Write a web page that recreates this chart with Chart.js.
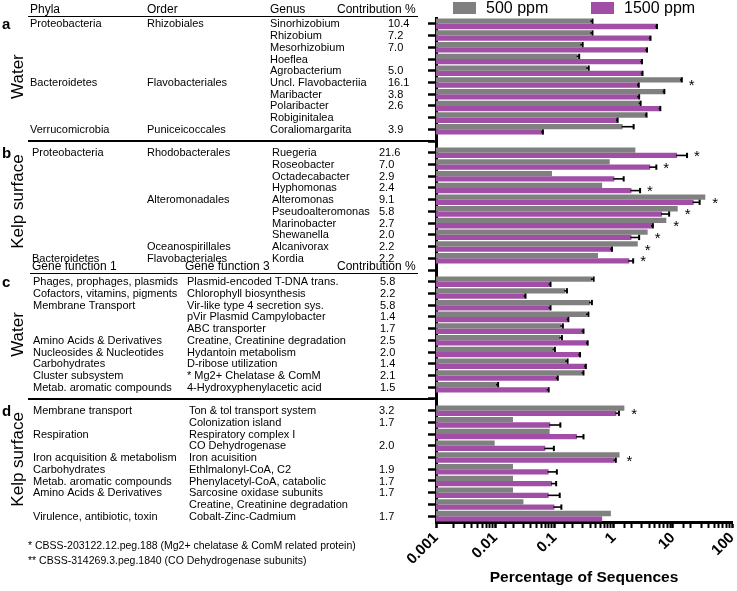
<!DOCTYPE html>
<html><head><meta charset="utf-8">
<script src="https://cdn.jsdelivr.net/npm/chart.js@4.4.1/dist/chart.umd.min.js"></script>
<style>html,body{margin:0;padding:0;background:#fff}#wrap{position:relative;width:737px;height:591px}</style>
</head><body><div id="wrap"><canvas id="c" width="737" height="591"></canvas></div>
<script>
// ---------- data ----------
const seriesLabels = ['500 ppm', '1500 ppm'];
const xTickLabels = ['0.001', '0.01', '0.1', '1', '10', '100'];
const axisTitle = 'Percentage of Sequences';
const panelLetters = ['a', 'b', 'c', 'd'];
const panelSites = ['Water', 'Kelp surface', 'Water', 'Kelp surface'];
const genusHeaders = ['Phyla', 'Order', 'Genus', 'Contribution %'];
const functionHeaders = ['Gene function 1', 'Gene function 3', 'Contribution %'];
const footnotes = ['* CBSS-203122.12.peg.188 (Mg2+ chelatase & ComM related protein)',
                   '** CBSS-314269.3.peg.1840 (CO Dehydrogenase subunits)'];

// panel a: genera, water
const waterGenus = ['Sinorhizobium', 'Rhizobium', 'Mesorhizobium', 'Hoeflea', 'Agrobacterium', 'Uncl. Flavobacteriia', 'Maribacter', 'Polaribacter', 'Robiginitalea', 'Coraliomargarita'];
const waterGenusPhyla = ['Proteobacteria', '', '', '', '', 'Bacteroidetes', '', '', '', 'Verrucomicrobia'];
const waterGenusOrder = ['Rhizobiales', '', '', '', '', 'Flavobacteriales', '', '', '', 'Puniceicoccales'];
const waterGenusContribution = ['10.4', '7.2', '7.0', '', '5.0', '16.1', '3.8', '2.6', '', '3.9'];
const waterGenus500 = [0.42, 0.42, 0.285, 0.247, 0.36, 13.8, 7.0, 2.76, 3.5, 1.42];
const waterGenus1500 = [5.25, 4.1, 3.57, 2.94, 3.0, 2.58, 2.6, 6.0, 1.14, 0.062];
const waterGenusErr500 = [0.02, 0.02, 0.015, 0.015, 0.02, 0.4, 0.2, 0.1, 0.1, 0.76];
const waterGenusErr1500 = [0.15, 0.1, 0.1, 0.08, 0.08, 0.08, 0.1, 0.15, 0.03, 0.002];
const waterGenusSig = [0, 0, 0, 0, 0, 1, 0, 0, 0, 0];

// panel b: genera, kelp surface
const kelpGenus = ['Ruegeria', 'Roseobacter', 'Octadecabacter', 'Hyphomonas', 'Alteromonas', 'Pseudoalteromonas', 'Marinobacter', 'Shewanella', 'Alcanivorax', 'Kordia'];
const kelpGenusPhyla = ['Proteobacteria', '', '', '', '', '', '', '', '', 'Bacteroidetes'];
const kelpGenusOrder = ['Rhodobacterales', '', '', '', 'Alteromonadales', '', '', '', 'Oceanospirillales', 'Flavobacteriales'];
const kelpGenusContribution = ['21.6', '7.0', '2.9', '2.4', '9.1', '5.8', '2.7', '2.0', '2.2', '2.2'];
const kelpGenus500 = [2.33, 0.86, 0.091, 0.64, 35.4, 12.1, 7.77, 3.76, 2.56, 0.545];
const kelpGenus1500 = [11.8, 4.17, 1.03, 2.0, 22.5, 6.57, 4.46, 2.0, 0.91, 1.84];
const kelpGenusErr500 = [0, 0, 0, 0, 0, 0, 0, 0, 0, 0];
const kelpGenusErr1500 = [5.6, 1.1, 0.45, 0.8, 5.9, 2.1, 0.15, 0.7, 0.03, 0.3];
const kelpGenusSig = [1, 1, 0, 1, 1, 1, 1, 1, 1, 1];

// panel c: gene functions, water
const waterFunction1 = ['Phages, prophages, plasmids', 'Cofactors, vitamins, pigments', 'Membrane Transport', '', '', 'Amino Acids & Derivatives', 'Nucleosides & Nucleotides', 'Carbohydrates', 'Cluster subsystem', 'Metab. aromatic compounds'];
const waterFunction3 = ['Plasmid-encoded T-DNA trans.', 'Chlorophyll biosynthesis', 'Vir-like type 4 secretion sys.', 'pVir Plasmid Campylobacter', 'ABC transporter', 'Creatine, Creatinine degradation', 'Hydantoin metabolism', 'D-ribose utilization', '* Mg2+ Chelatase & ComM', '4-Hydroxyphenylacetic acid'];
const waterFunctionContribution = ['5.8', '2.2', '5.8', '1.4', '1.7', '2.5', '2.0', '1.4', '2.1', '1.5'];
const waterFunction500 = [0.43, 0.153, 0.40, 0.355, 0.131, 0.126, 0.097, 0.159, 0.30, 0.0107];
const waterFunction1500 = [0.083, 0.0315, 0.083, 0.167, 0.30, 0.355, 0.263, 0.33, 0.11, 0.077];
const waterFunctionErr500 = [0.03, 0.01, 0.03, 0.02, 0.008, 0.008, 0.005, 0.008, 0.01, 0.0005];
const waterFunctionErr1500 = [0.003, 0.001, 0.003, 0.005, 0.01, 0.01, 0.008, 0.01, 0.004, 0.003];
const waterFunctionSig = [0, 0, 0, 0, 0, 0, 0, 0, 0, 0];

// panel d: gene functions, kelp surface
const kelpFunction1 = ['Membrane transport', '', 'Respiration', '', 'Iron acquisition & metabolism', 'Carbohydrates', 'Metab. aromatic compounds', 'Amino Acids & Derivatives', '', 'Virulence, antibiotic, toxin'];
const kelpFunction3 = ['Ton & tol transport system', 'Colonization island', 'Respiratory complex I', 'CO Dehydrogenase', 'Iron acuisition', 'Ethlmalonyl-CoA, C2', 'Phenylacetyl-CoA, catabolic', 'Sarcosine oxidase subunits', 'Creatine, Creatinine degradation', 'Cobalt-Zinc-Cadmium'];
const kelpFunctionContribution = ['3.2', '1.7', '', '2.0', '', '1.9', '1.7', '1.7', '', '1.7'];
const kelpFunction500 = [1.52, 0.020, 0.083, 0.0098, 1.26, 0.020, 0.020, 0.020, 0.030, 0.90];
const kelpFunction1500 = [1.11, 0.085, 0.24, 0.070, 1.04, 0.080, 0.091, 0.080, 0.10, 0.64];
const kelpFunctionErr500 = [0, 0, 0, 0, 0, 0, 0, 0, 0, 0];
const kelpFunctionErr1500 = [0.12, 0.041, 0.07, 0.028, 0.05, 0.03, 0.016, 0.043, 0.031, 0];
const kelpFunctionSig = [1, 0, 0, 0, 1, 0, 0, 0, 0, 0];

// ---------- combined (blank category between panels) ----------
const categories = [...waterGenus, '', ...kelpGenus, '', ...waterFunction3, '', ...kelpFunction3];
const values500 = [...waterGenus500, null, ...kelpGenus500, null, ...waterFunction500, null, ...kelpFunction500];
const values1500 = [...waterGenus1500, null, ...kelpGenus1500, null, ...waterFunction1500, null, ...kelpFunction1500];
const errors500 = [...waterGenusErr500, 0, ...kelpGenusErr500, 0, ...waterFunctionErr500, 0, ...kelpFunctionErr500];
const errors1500 = [...waterGenusErr1500, 0, ...kelpGenusErr1500, 0, ...waterFunctionErr1500, 0, ...kelpFunctionErr1500];
const significant = [...waterGenusSig, 0, ...kelpGenusSig, 0, ...waterFunctionSig, 0, ...kelpFunctionSig];

// ---------- drawing ----------
const FONT = '"Liberation Sans", Arial, Helvetica, sans-serif';
const GRAY = '#808080';
const PURPLE = '#a14ea7';
const isDecade = v => Math.abs(Math.log10(v) - Math.round(Math.log10(v))) < 1e-6;

const tableLayout = [
  {start: 0, cols: [[waterGenusPhyla, 30], [waterGenusOrder, 147], [waterGenus, 270], [waterGenusContribution, 388]]},
  {start: 11, cols: [[kelpGenusPhyla, 32], [kelpGenusOrder, 147], [kelpGenus, 272], [kelpGenusContribution, 379]]},
  {start: 22, cols: [[waterFunction1, 33], [waterFunction3, 187], [waterFunctionContribution, 380]]},
  {start: 33, cols: [[kelpFunction1, 33], [kelpFunction3, 189], [kelpFunctionContribution, 379]]}
];

const decor = {
  id: 'decor',
  afterDatasetsDraw(chart) {
    const ctx = chart.ctx, xs = chart.scales.x, ys = chart.scales.y;
    const errs = [errors500, errors1500];
    ctx.save();
    ctx.strokeStyle = '#000';
    const ends = categories.map(() => 0);
    chart.data.datasets.forEach((ds, di) => {
      const meta = chart.getDatasetMeta(di);
      meta.data.forEach((bar, i) => {
        const v = ds.data[i];
        if (v == null) return;
        const e = errs[di][i];
        const x1 = xs.getPixelForValue(v + e);
        ends[i] = Math.max(ends[i], x1, bar.x);
        if (!e) return;
        const h = bar.height;
        ctx.lineWidth = 1.6;
        ctx.beginPath(); ctx.moveTo(bar.x - 1, bar.y); ctx.lineTo(x1, bar.y); ctx.stroke();
        ctx.lineWidth = 2;
        ctx.beginPath(); ctx.moveTo(x1, bar.y - h / 2); ctx.lineTo(x1, bar.y + h / 2); ctx.stroke();
      });
    });
    ctx.fillStyle = '#000';
    ctx.font = `15px ${FONT}`;
    ctx.textAlign = 'left';
    ctx.textBaseline = 'alphabetic';
    significant.forEach((s, i) => {
      if (!s) return;
      ctx.fillText('*', ends[i] + 7, ys.getPixelForValue(i) + 8);
    });
    ctx.restore();
  },
  afterDraw(chart) {
    const ctx = chart.ctx, ys = chart.scales.y;
    ctx.save();
    ctx.fillStyle = '#000';
    ctx.strokeStyle = '#000';
    ctx.textAlign = 'left';
    ctx.textBaseline = 'middle';
    // table body
    ctx.font = `11px ${FONT}`;
    tableLayout.forEach(p => {
      p.cols.forEach(([arr, x]) => {
        arr.forEach((t, i) => { if (t) ctx.fillText(t, x, ys.getPixelForValue(p.start + i) + 0.5); });
      });
    });
    // headers
    ctx.font = `12px ${FONT}`;
    [30, 147, 270, 337].forEach((x, i) => ctx.fillText(genusHeaders[i], x, 10));
    const hy = ys.getPixelForValue(21) - 3;
    [32, 185, 337].forEach((x, i) => ctx.fillText(functionHeaders[i], x, hy));
    ctx.lineWidth = 1;
    ctx.beginPath(); ctx.moveTo(28, 16.5); ctx.lineTo(418, 16.5); ctx.stroke();
    ctx.beginPath(); ctx.moveTo(30, hy + 6.5); ctx.lineTo(418, hy + 6.5); ctx.stroke();
    // separators
    ctx.lineWidth = 2;
    [10, 32].forEach(i => {
      const y = Math.round(ys.getPixelForValue(i));
      ctx.beginPath(); ctx.moveTo(28, y); ctx.lineTo(434, y); ctx.stroke();
    });
    // panel letters and sites
    tableLayout.forEach((p, k) => {
      const y0 = ys.getPixelForValue(p.start), y1 = ys.getPixelForValue(p.start + 9);
      ctx.font = `bold 15px ${FONT}`;
      ctx.textAlign = 'left';
      ctx.fillText(panelLetters[k], 2, y0 + 1);
      ctx.save();
      ctx.translate(18, (y0 + y1) / 2 - (k % 2 ? 4 : 0));
      ctx.rotate(-Math.PI / 2);
      ctx.textAlign = 'center';
      ctx.font = `17px ${FONT}`;
      ctx.fillText(panelSites[k], 0, 0);
      ctx.restore();
    });
    // legend
    ctx.font = `16px ${FONT}`;
    ctx.textAlign = 'left';
    const legendX = [453, 591];
    chart.data.datasets.forEach((ds, i) => {
      ctx.fillStyle = ds.backgroundColor;
      ctx.fillRect(legendX[i], 2, 23, 12);
      ctx.fillStyle = '#000';
      ctx.fillText(ds.label, legendX[i] + 33, 8.5);
    });
    // footnotes
    ctx.font = `10.5px ${FONT}`;
    footnotes.forEach((t, i) => ctx.fillText(t, 28, 546 + i * 15));
    ctx.restore();
  }
};

new Chart(document.getElementById('c'), {
  type: 'bar',
  data: {
    labels: categories,
    datasets: [
      {label: seriesLabels[0], data: values500, backgroundColor: GRAY, categoryPercentage: 0.9, barPercentage: 1.0, borderWidth: 0},
      {label: seriesLabels[1], data: values1500, backgroundColor: PURPLE, categoryPercentage: 0.9, barPercentage: 1.0, borderWidth: 0}
    ]
  },
  options: {
    indexAxis: 'y',
    responsive: false,
    animation: false,
    devicePixelRatio: 1,
    layout: {padding: {top: 18, right: 5, bottom: 0, left: 0}},
    plugins: {legend: {display: false}, tooltip: {enabled: false}},
    scales: {
      y: {
        type: 'category',
        offset: true,
        ticks: {display: false},
        grid: {drawOnChartArea: false, offset: false, drawTicks: true, tickLength: 8, tickWidth: 2.5, tickColor: '#000'},
        border: {display: true, width: 3, color: '#000'},
        afterFit(s) { s.width = 436; }
      },
      x: {
        type: 'logarithmic',
        min: 0.001,
        max: 100,
        ticks: {
          autoSkip: false, minRotation: 45, maxRotation: 45, padding: 1, color: '#000',
          font: {family: FONT, size: 15, weight: 'bold'},
          callback: v => isDecade(v) ? xTickLabels[Math.round(Math.log10(v)) + 3] : ''
        },
        grid: {
          drawOnChartArea: false, drawTicks: true, tickLength: 6, tickColor: '#000',
          tickWidth: c => (c.tick && isDecade(c.tick.value)) ? 2.5 : 2
        },
        border: {display: true, width: 3, color: '#000'},
        title: {display: true, text: axisTitle, color: '#000', font: {family: FONT, size: 15.5, weight: 'bold'}, padding: {top: 0, bottom: 4}},
        afterFit(s) { s.height = 69; s.paddingLeft = 0; s.paddingRight = 0; }
      }
    }
  },
  plugins: [decor]
});
</script></body></html>
